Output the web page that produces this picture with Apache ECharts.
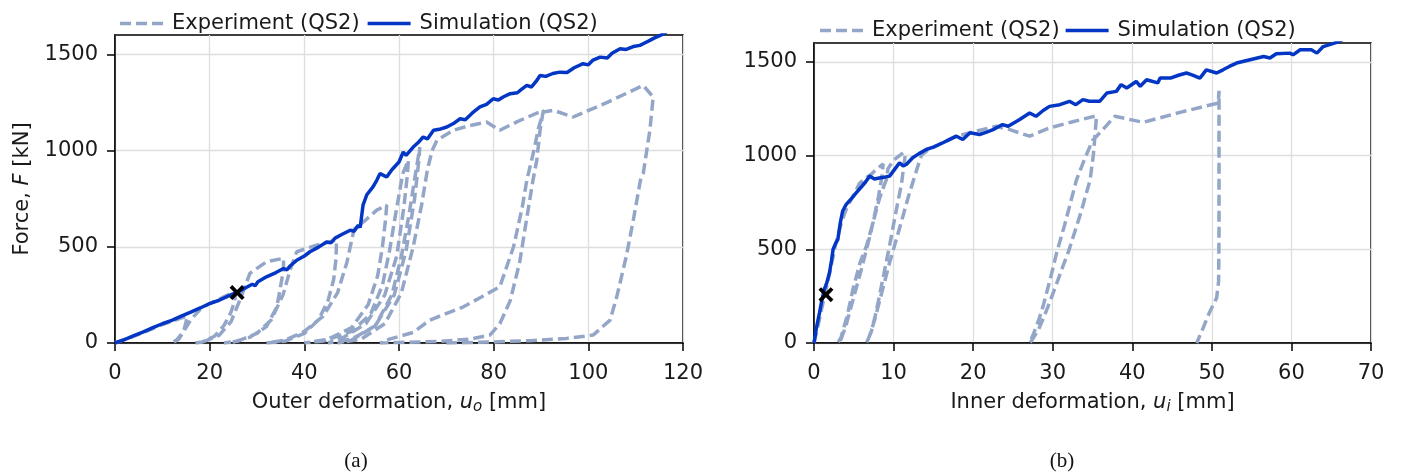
<!DOCTYPE html>
<html><head><meta charset="utf-8">
<script src="https://cdn.jsdelivr.net/npm/echarts@6/dist/echarts.min.js"></script>
<style>html,body{margin:0;padding:0;background:#fff}#c{width:1401px;height:475px}</style>
</head><body><div id="c"></div>
<script>
const seriesNames = ['Experiment (QS2)', 'Simulation (QS2)'];
const forceTicks = [0, 500, 1000, 1500];
const outerTicks = [0, 20, 40, 60, 80, 100, 120];
const innerTicks = [0, 10, 20, 30, 40, 50, 60, 70];
const captions = ['(a)', '(b)'];
const axisNames = ['Outer deformation, {it|u}{sub|o} [mm]', 'Inner deformation, {it|u}{sub|i} [mm]', 'Force, {it|F} [kN]'];

// (a) outer deformation vs force
const simOuter = [[0,0],[2,18],[4,38],[6,58],[8,80],[10,100],[12,118],[14,140],[16,160],[18,182],[20,205],[22,222],[24,245],[26,265],[28,292],[29,305],[29.6,298],[30.2,318],[32,344],[34,366],[35.6,387],[36.3,380],[37,400],[38.4,430],[40,452],[41.2,474],[43,498],[44.7,525],[45.6,520],[46.5,545],[48,565],[49.7,586],[50.5,580],[51.4,612],[51.8,600],[52.4,716],[53.2,770],[54.5,811],[55.3,845],[56,880],[57.4,862],[58.5,900],[60,940],[60.9,992],[61.5,975],[63,1018],[64,1040],[65.1,1070],[66,1060],[67.3,1105],[68.5,1110],[70.1,1122],[71.5,1140],[72.9,1165],[74,1160],[75.5,1195],[77.1,1226],[78.5,1240],[79.9,1269],[81,1262],[82,1278],[83.5,1295],[85,1300],[86,1320],[87,1338],[88,1330],[89,1360],[89.8,1390],[91,1385],[92.5,1400],[94,1407],[95.5,1405],[97,1430],[98.9,1451],[100,1445],[101,1470],[102.5,1485],[104,1480],[105,1505],[106.7,1529],[108,1525],[109.5,1540],[110.9,1546],[112,1560],[113,1572],[114,1585],[115.2,1598],[116.5,1615]];
const expOuter = [[0,0],[5,45],[10,95],[14,130],[15.2,140],[15,110],[14.5,60],[13.5,20],[12,0],[13,15],[14.5,60],[16,120],[18,175],[20,205],[23,240],[25.5,268],[25.3,220],[24.5,160],[23,90],[21,35],[18.5,5],[17,0],[19,10],[22,40],[24.5,110],[26.5,230],[28.5,362],[32,422],[35.6,440],[35.6,380],[34.2,188],[32,85],[28.5,30],[25,5],[23,0],[26,10],[30,50],[33,120],[35.5,250],[37,380],[38.4,474],[42.6,508],[46.8,535],[46.7,440],[46.2,330],[45,220],[43,120],[40,50],[36,10],[32,0],[36,15],[40,60],[44,140],[47,260],[49,420],[50.5,590],[53,640],[55.3,690],[57.4,716],[57.2,650],[56.5,500],[55.5,350],[53.5,200],[50,80],[45,20],[40,0],[44,10],[50,60],[54,150],[56.5,300],[58,480],[59.5,700],[60.8,880],[62,950],[61.8,880],[61,700],[59.5,450],[57,250],[53,100],[48,25],[45,0],[50,20],[55,90],[58.5,250],[60.5,450],[62,650],[63.3,850],[64.4,1018],[64.2,950],[63.3,750],[61.5,480],[59,250],[55,90],[50,15],[47,0],[52,20],[57,100],[60.5,260],[63,500],[64.8,720],[66,900],[67,1000],[68,1053],[71.5,1105],[75,1130],[78.5,1148],[81.3,1105],[85,1150],[90.5,1209],[89.8,1105],[89.1,949],[88.3,845],[87,650],[85.5,420],[83.5,220],[81.3,100],[79.2,41],[75,20],[68,8],[60,3],[56,0],[58,20],[63,55],[66.5,119],[73.6,188],[77.5,240],[81.3,292],[84.2,500],[86,700],[87,845],[88.5,1000],[89.5,1120],[90.5,1200],[92.6,1209],[96.8,1174],[104,1250],[111.6,1338],[113.7,1278],[113,1105],[111.6,880],[111,845],[109.5,638],[108,448],[106,240],[104.6,119],[101,41],[95.4,24],[87.7,12],[79.2,5],[70,0]];
const markOuter = [[25.8, 262]];

// (b) inner deformation vs force
const simInner = [[0,0],[0.3,80],[0.7,163],[1,230],[1.3,287],[1.6,320],[1.95,376],[2.2,440],[2.4,500],[2.7,530],[3,553],[3.3,640],[3.6,704],[4.05,739],[4.7,770],[5.3,801],[6.1,840],[6.5,860],[7,890],[7.6,875],[8.2,880],[9,885],[9.5,890],[10.2,930],[10.75,961],[11.2,945],[11.6,952],[12.4,988],[13.2,1010],[14.1,1032],[15,1045],[16.2,1068],[17,1085],[17.9,1103],[18.7,1085],[19.6,1121],[20.8,1112],[21.7,1125],[22.5,1138],[23.7,1165],[24.4,1156],[25.8,1191],[27.1,1227],[27.9,1209],[28.8,1240],[29.6,1262],[30.9,1271],[32.1,1289],[32.9,1271],[33.8,1298],[34.6,1289],[35.9,1289],[36.8,1333],[38,1342],[38.6,1378],[39.3,1360],[40.5,1395],[41,1369],[41.8,1404],[43.2,1387],[43.5,1413],[44.8,1413],[45.8,1428],[46.8,1440],[47.5,1430],[48.5,1413],[49.3,1457],[50.6,1440],[51.4,1457],[52.2,1475],[53.1,1493],[54.8,1511],[56.5,1528],[57.3,1520],[58.1,1543],[59.8,1546],[60.2,1537],[61.1,1564],[62.5,1564],[63.2,1546],[64,1581],[65.7,1603],[66.5,1620]];
const expInner = [[0,0],[0.5,90],[1,190],[1.6,300],[2.2,420],[2.8,540],[3.5,650],[4.2,730],[5,790],[5.7,850],[6.5,880],[7.2,900],[7.8,925],[8.7,955],[8.5,880],[8.1,780],[7.2,600],[6,400],[4.9,230],[4,90],[3.4,20],[3,0],[3.4,30],[4.2,150],[4.9,287],[5.8,430],[6.6,518],[7.4,640],[8.2,766],[8.8,840],[9.1,872],[9.3,930],[10,975],[11.2,1014],[11.5,1010],[11.3,950],[11,850],[10.3,700],[9.5,520],[8.6,330],[7.8,163],[7.2,60],[6.6,0],[7,40],[7.6,120],[8.4,250],[9.5,429],[10.4,560],[11.2,680],[12,801],[12.6,880],[13.1,950],[13.5,1000],[14.1,1023],[16,1065],[17.9,1103],[20.4,1130],[22.9,1156],[24.6,1138],[27.1,1103],[29.6,1147],[32.5,1180],[35.5,1212],[35.3,1100],[35.1,1000],[34.7,870],[33.5,690],[32,490],[31.3,411],[30,260],[29,150],[28.2,70],[27.4,15],[27.1,0],[27.6,50],[28.3,130],[28.8,198],[29.8,360],[30.5,482],[31.5,630],[33,872],[34,980],[35,1080],[36.3,1138],[37.8,1209],[41.4,1177],[46,1230],[50.8,1280],[50.9,1345],[50.9,1000],[50.9,600],[50.85,330],[50.6,240],[49.7,163],[48.9,80],[48.1,0]];
const markInner = [[1.5, 258]];

const FONT = 'DejaVu Sans';
const expColor = '#94a6c8';
const simColor = '#0336c4';
const labelStyle = {fontSize: 21, fontFamily: FONT, color: '#1a1a1a'};
const richName = {
  it: {fontSize: 21, fontFamily: FONT, fontStyle: 'italic', color: '#1a1a1a'},
  sub: {fontSize: 15, fontFamily: FONT, fontStyle: 'italic', color: '#1a1a1a', padding: [10, 0, 0, 0]}
};
const xMark = 'path://M2.5,0 L7,4.5 L11.5,0 L14,2.5 L9.5,7 L14,11.5 L11.5,14 L7,9.5 L2.5,14 L0,11.5 L4.5,7 L0,2.5 Z';
const dashIcon = 'path://M0,0h11v3.5h-11z M16,0h11v3.5h-11z M32,0h11v3.5h-11z';
const solidIcon = 'path://M0,0h43v3.5h-43z';

function xAxisCfg(idx, max, interval, ticks, name) {
  return {
    gridIndex: idx, type: 'value', min: 0, max: max, interval: interval,
    name: name, nameLocation: 'middle', nameGap: 47,
    nameTextStyle: Object.assign({}, labelStyle, {rich: richName}),
    axisLine: {show: true, onZero: false, lineStyle: {color: '#000', width: 1.5}},
    axisTick: {show: true, inside: false, length: 8, lineStyle: {color: '#000', width: 1.5}, customValues: ticks},
    axisLabel: Object.assign({margin: 20, customValues: ticks, formatter: v => String(v)}, labelStyle),
    splitLine: {show: true, lineStyle: {color: '#dedede', width: 1.3}}
  };
}
function yAxisCfg(idx, name) {
  return {
    gridIndex: idx, type: 'value', min: 0, max: 1600,
    name: name, nameLocation: 'middle', nameGap: 82, nameRotate: 90,
    nameTextStyle: Object.assign({}, labelStyle, {rich: richName}),
    axisLine: {show: true, onZero: false, lineStyle: {color: '#000', width: 1.5}},
    axisTick: {show: true, inside: false, length: 8, lineStyle: {color: '#000', width: 1.5}, customValues: forceTicks},
    axisLabel: Object.assign({margin: 17, customValues: forceTicks, formatter: v => String(v)}, labelStyle),
    splitLine: {show: true, lineStyle: {color: '#dedede', width: 1.3}}
  };
}
function lineSeries(name, idx, data, dashed) {
  return {
    name: name, type: 'line', xAxisIndex: idx, yAxisIndex: idx, data: data,
    showSymbol: false, symbol: 'none', smooth: false, clip: true,
    lineStyle: {color: dashed ? expColor : simColor, width: 3.5, type: dashed ? [11, 5] : 'solid'},
    itemStyle: {color: dashed ? expColor : simColor},
    z: dashed ? 2 : 3
  };
}
function markSeries(idx, data) {
  return {
    name: 'mark', type: 'scatter', xAxisIndex: idx, yAxisIndex: idx, data: data,
    symbol: xMark, symbolSize: 15, itemStyle: {color: '#000', opacity: 1}, z: 5
  };
}
function legendCfg(left, top, gap) {
  return {
    left: left, top: top, padding: 0, itemWidth: 43, itemHeight: 3.5, itemGap: gap,
    data: [{name: seriesNames[0], icon: dashIcon}, {name: seriesNames[1], icon: solidIcon}],
    selectedMode: false,
    textStyle: Object.assign({padding: [0, 0, 0, 4]}, labelStyle)
  };
}

const chart = echarts.init(document.getElementById('c'), null, {renderer: 'canvas'});
chart.setOption({
  animation: false,
  backgroundColor: '#fff',
  legend: [legendCfg(120, 13, 8), legendCfg(820, 20, 6)],
  grid: [
    {left: 115, top: 35, width: 568, height: 308, show: true, borderColor: '#000', borderWidth: 1.5, containLabel: false},
    {left: 814, top: 43, width: 557, height: 300, show: true, borderColor: '#000', borderWidth: 1.5, containLabel: false}
  ],
  xAxis: [xAxisCfg(0, 120, 20, outerTicks, axisNames[0]), xAxisCfg(1, 70, 10, innerTicks, axisNames[1])],
  yAxis: [yAxisCfg(0, axisNames[2]), yAxisCfg(1, '')],
  series: [
    lineSeries(seriesNames[0], 0, expOuter, true),
    lineSeries(seriesNames[1], 0, simOuter, false),
    markSeries(0, markOuter),
    lineSeries(seriesNames[0], 1, expInner, true),
    lineSeries(seriesNames[1], 1, simInner, false),
    markSeries(1, markInner)
  ],
  graphic: [
    {type: 'text', x: 356, y: 461, style: {text: captions[0], fontSize: 21, fontFamily: 'Liberation Serif', fill: '#111', align: 'center', verticalAlign: 'middle'}},
    {type: 'text', x: 1062, y: 461, style: {text: captions[1], fontSize: 21, fontFamily: 'Liberation Serif', fill: '#111', align: 'center', verticalAlign: 'middle'}}
  ]
});
</script>
</body></html>
